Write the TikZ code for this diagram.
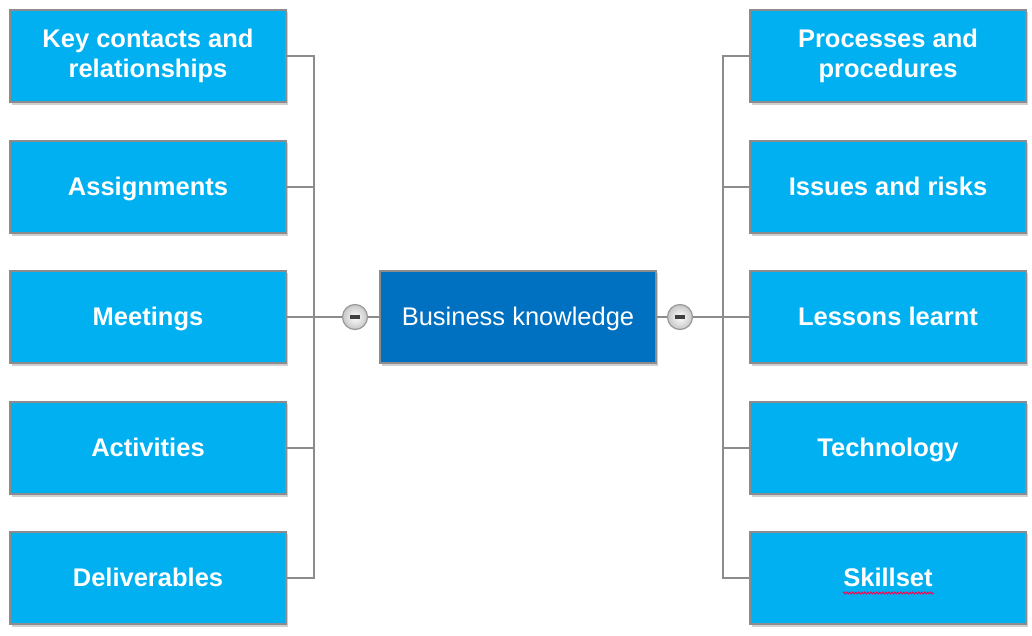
\documentclass[tikz,border=0pt]{standalone}
\usepackage{fontspec}
\setmainfont{Liberation Sans}
\usetikzlibrary{decorations.pathmorphing}
\definecolor{leafblue}{HTML}{00B0F0}
\definecolor{rootblue}{HTML}{0070C0}
\definecolor{edgegray}{HTML}{8C8C8C}
\definecolor{shadowgray}{HTML}{D0D0D0}
\begin{document}
\begin{tikzpicture}[x=1pt,y=-1pt,
  boxbase/.style={draw=edgegray, line width=1.2pt, minimum width=276pt, minimum height=92pt,
    inner sep=0pt, align=center, text=white},
  leaftwo/.style={boxbase, fill=leafblue, font=\fontsize{25.5}{29.5}\selectfont\bfseries},
  leaf/.style={leaftwo, text height=21pt, text depth=3.5pt},
  root/.style={boxbase, fill=rootblue, text height=21pt, text depth=3.5pt,
    font=\fontsize{25.5}{29.5}\selectfont},
  conn/.style={draw=edgegray, line width=1.6pt},
  toggle/.style={circle, draw=gray!80, line width=1.2pt, inner color=white, outer color=gray!45, minimum size=25pt, inner sep=0pt}
]
\useasboundingbox (0,0) rectangle (1032,636);
% shadows
\foreach \x/\y in {148/56,148/187,148/317,148/448,148/578,888/56,888/187,888/317,888/448,888/578,518/317}{
  \fill[shadowgray] (\x-136,\y-44) rectangle (\x+140,\y+49);
}
% nodes
\node[leaftwo] (l1) at (148,56) {Key contacts and\\relationships};
\node[leaf] (l2) at (148,187) {Assignments};
\node[leaf] (l3) at (148,317) {Meetings};
\node[leaf] (l4) at (148,448) {Activities};
\node[leaf] (l5) at (148,578) {Deliverables};
\node[leaftwo] (r1) at (888,56) {Processes and\\procedures};
\node[leaf] (r2) at (888,187) {Issues and risks};
\node[leaf] (r3) at (888,317) {Lessons learnt};
\node[leaf] (r4) at (888,448) {Technology};
\node[leaf] (r5) at (888,578) {Skillset};
\node[root] (c) at (518,317) {Business knowledge};
\node[toggle] (tl) at (355,317) {};
\node[toggle] (tr) at (680,317) {};
\fill[black!75] ([xshift=-5pt,yshift=-1.6pt]tl.center) rectangle ([xshift=5pt,yshift=1.6pt]tl.center);
\fill[black!75] ([xshift=-5pt,yshift=-1.6pt]tr.center) rectangle ([xshift=5pt,yshift=1.6pt]tr.center);
% bus coordinates
\coordinate (bl) at (314,317);
\coordinate (br) at (723,317);
% connectors
\draw[conn] (c.west) -- (tl.east);
\draw[conn] (tl.west) -- (l3.east);
\draw[conn] (c.east) -- (tr.west);
\draw[conn] (tr.east) -- (r3.west);
\draw[conn] (l1.east) -| (bl) |- (l5.east);
\draw[conn] (l2.east) -- (l2.east -| bl);
\draw[conn] (l4.east) -- (l4.east -| bl);
\draw[conn] (r1.west) -| (br) |- (r5.west);
\draw[conn] (r2.west) -- (r2.west -| br);
\draw[conn] (r4.west) -- (r4.west -| br);
% spell-check underline
\draw[red!70!magenta, line width=0.9pt, decorate, decoration={zigzag, amplitude=1pt, segment length=3pt}] (843,593) -- (934,593);
\end{tikzpicture}
\end{document}
